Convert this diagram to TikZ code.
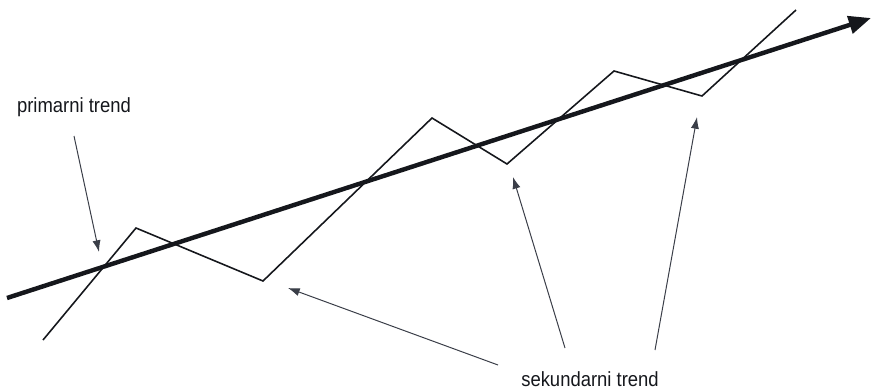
\documentclass[tikz,border=0pt]{standalone}
\usepackage{fontspec}
\setmainfont{Liberation Sans}[FakeStretch=0.9]
\usetikzlibrary{calc,positioning,arrows.meta}
\definecolor{TrendInk}{HTML}{15171C}
\definecolor{NoteInk}{HTML}{3A3E48}

\tikzset{
  trendline/.style={line width=3.8pt, draw=TrendInk, -{Triangle[length=19pt,width=15pt]}},
  waveline/.style={line width=1.35pt, draw=TrendInk, line join=miter},
  noteline/.style={line width=0.85pt, draw=NoteInk, -{Latex[length=10pt,width=7pt]}},
  notelabel/.style={font=\fontsize{17.5}{19}\selectfont, text=TrendInk, inner sep=0pt}
}

\begin{document}
\begin{tikzpicture}[x=0.03cm, y=-0.03cm]
    \useasboundingbox (0,0) rectangle (873,391);

    % primary trend
    \coordinate (trendstart) at (7,298);
    \coordinate (trendend) at (871,18);
    \draw[trendline] (trendstart) -- (trendend);

    % secondary swings
    \coordinate (w0) at (43,340);
    \coordinate (w1) at (136,228);
    \coordinate (w2) at (263,281);
    \coordinate (w3) at (432,118);
    \coordinate (w4) at (507,164);
    \coordinate (w5) at (614,71);
    \coordinate (w6) at (702,96);
    \coordinate (w7) at (796,10);
    \draw[waveline] (w0) -- (w1) -- (w2) -- (w3) -- (w4) -- (w5) -- (w6) -- (w7);

    % labels
    \node[notelabel] (primlbl) at (74,107) {primarni trend};
    \node[notelabel] (seklbl) at (590,379) {sekundarni trend};

    % pointers
    \coordinate (primtail) at (74,136);
    \coordinate (primtip) at (99,252);
    \draw[noteline] (primtail) -- (primtip);

    \coordinate (sektailA) at (498,365);
    \coordinate (sektipA) at (288,288);
    \coordinate (sektailB) at (565,348);
    \coordinate (sektipB) at (513,177);
    \coordinate (sektailC) at (655,350);
    \coordinate (sektipC) at (697,117);
    \draw[noteline] (sektailA) -- (sektipA);
    \draw[noteline] (sektailB) -- (sektipB);
    \draw[noteline] (sektailC) -- (sektipC);
  \end{tikzpicture}
\end{document}
